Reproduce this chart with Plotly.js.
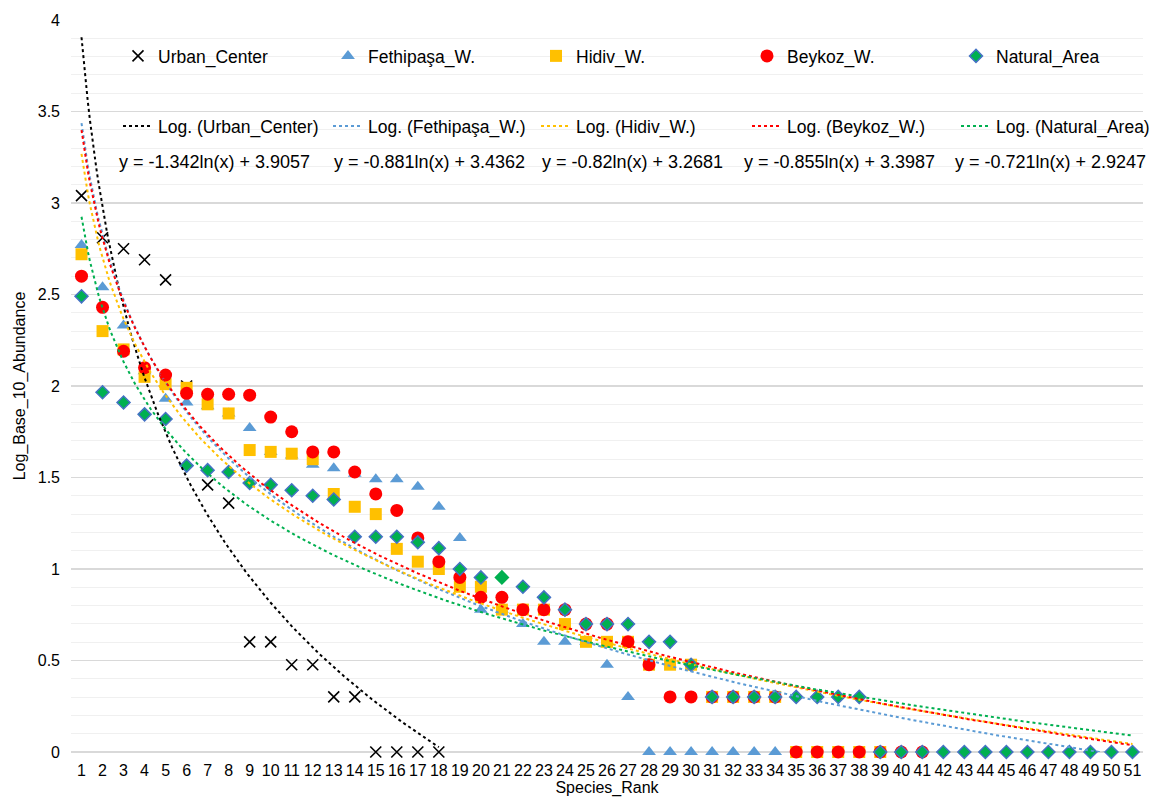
<!DOCTYPE html>
<html>
<head>
<meta charset="utf-8">
<script src="https://cdn.plot.ly/plotly-3.0.1.min.js"></script>
<style>html,body{margin:0;padding:0;background:#fff;}#chart{width:1156px;height:800px;}</style>
</head>
<body>
<div id="chart"></div>
<script>
// Species rank categories
const ranks = [1,2,3,4,5,6,7,8,9,10,11,12,13,14,15,16,17,18,19,20,21,22,23,24,25,26,27,28,29,30,31,32,33,34,35,36,37,38,39,40,41,42,43,44,45,46,47,48,49,50,51];

// Log10 abundance per site
const urbanCenter = [3.04,2.81,2.75,2.69,2.58,2.00,1.46,1.36,0.602,0.602,0.477,0.477,0.301,0.301,0,0,0,0];
const fethipasa = [2.77,2.54,2.33,2.08,1.93,1.91,1.89,1.85,1.77,1.64,
                   1.62,1.57,1.55,1.52,1.49,1.49,1.45,1.34,1.17,0.778,
                   0.778,0.699,0.602,0.602,0.602,0.477,0.301,0,0,0,
                   0,0,0,0];
const hidiv = [2.72,2.30,2.20,2.05,2.01,1.99,1.90,1.85,1.65,1.64,
               1.63,1.60,1.41,1.34,1.30,1.11,1.04,1.00,0.903,0.903,
               0.778,0.778,0.778,0.699,0.602,0.602,0.602,0.477,0.477,0.477,
               0.301,0.301,0.301,0.301,0,0,0,0,0];
const beykoz = [2.60,2.43,2.19,2.10,2.06,1.96,1.955,1.955,1.95,1.83,
                1.75,1.64,1.64,1.53,1.41,1.32,1.17,1.04,0.954,0.845,
                0.845,0.778,0.778,0.778,0.699,0.699,0.602,0.477,0.301,0.301,
                0.301,0.301,0.301,0.301,0,0,0,0,0,0,0];
const naturalArea = [2.49,1.966,1.91,1.845,1.82,1.565,1.54,1.53,1.47,1.46,
                     1.43,1.40,1.38,1.176,1.176,1.176,1.146,1.114,1.0,0.954,
                     0.954,0.903,0.845,0.778,0.699,0.699,0.699,0.602,0.602,0.477,
                     0.301,0.301,0.301,0.301,0.301,0.301,0.301,0.301,0,0,
                     0,0,0,0,0,0,0,0,0,0,0];

const seriesNames = ['Urban_Center','Fethipaşa_W.','Hidiv_W.','Beykoz_W.','Natural_Area'];
// Logarithmic trendline coefficients shown on the chart: y = a ln(x) + b
const trendA = [-1.342,-0.881,-0.82,-0.855,-0.721];
const trendB = [3.9057,3.4362,3.2681,3.3987,2.9247];

const seriesValues = [urbanCenter, fethipasa, hidiv, beykoz, naturalArea];
const colors = ['#000000','#5B9BD5','#FFC000','#FF0000','#00B050'];
// one Natural_Area point (rank 21) is drawn without the blue outline in the reference
const naturalBorder = naturalArea.map((v, k) => (ranks[k] === 21 ? '#00B050' : '#4472C4'));
const markers = [
  {symbol:'x-thin', size:11, color:'#000000', line:{color:'#000000', width:1.6}},
  {symbol:'triangle-up', size:12, color:'#5B9BD5', line:{width:0}},
  {symbol:'square', size:12, color:'#FFC000', line:{width:0}},
  {symbol:'circle', size:13, color:'#FF0000', line:{width:0}},
  {symbol:'diamond', size:10, color:'#00B050', line:{color:naturalBorder, width:1.5}}
];

// plot-area geometry (px) used to place legends/labels
const PL = 71, PW = 1072, PT = 20, PH = 732;
const textStartX = [158, 368, 576, 787, 996];
const eqX = [117, 332, 540, 742, 953];
const legendKeys = ['legend','legend2','legend3','legend4','legend5','legend6','legend7','legend8','legend9','legend10'];

const traces = [];
seriesValues.forEach((vals, i) => {
  traces.push({
    type:'scatter', mode:'markers', name:seriesNames[i],
    x: ranks.slice(0, vals.length), y: vals,
    marker: markers[i], legend: legendKeys[i], cliponaxis:false
  });
});
seriesValues.forEach((vals, i) => {
  const n = vals.length <= 18 ? vals.length : ranks.length;
  const xs = [], ys = [];
  for (let k = 0; k <= (n - 1) * 10; k++) {
    const x = 1 + k / 10;
    xs.push(x); ys.push(trendA[i] * Math.log(x) + trendB[i]);
  }
  traces.push({
    type:'scatter', mode:'lines', name:'Log. (' + seriesNames[i] + ')',
    x: xs, y: ys, line:{color:colors[i], width:2, dash:'dot'},
    legend: legendKeys[i + 5], hoverinfo:'skip'
  });
});

const annotations = trendA.map((a, i) => ({
  xref:'paper', yref:'paper', x:(eqX[i] - PL) / PW, y:(PT + PH - 162) / PH,
  xanchor:'left', yanchor:'middle', showarrow:false,
  text:'y = ' + a + 'ln(x) + ' + trendB[i],
  font:{size:18, color:'#000'}
}));

const font = {family:'"Liberation Sans", Arial, sans-serif', size:16, color:'#000'};
const layout = {
  width:1156, height:800,
  margin:{l:PL, r:1156 - PL - PW, t:PT, b:800 - PT - PH, autoexpand:false},
  paper_bgcolor:'#fff', plot_bgcolor:'#fff',
  font: font,
  showlegend:true,
  xaxis:{
    range:[0.5, 51.5], tickmode:'linear', tick0:1, dtick:1,
    showgrid:false, zeroline:false, showline:false, ticks:'',
    ticklabelstandoff:7,
    tickfont:{size:16, color:'#000'},
    title:{text:'Species_Rank', font:{size:16, color:'#000'}, standoff:2}
  },
  yaxis:{
    range:[0, 4], tickmode:'linear', tick0:0, dtick:0.5,
    showgrid:true, gridcolor:'#d9d9d9', gridwidth:1.5,
    zeroline:true, zerolinecolor:'#d9d9d9', zerolinewidth:1.5,
    showline:false, ticks:'',
    ticklabelstandoff:10,
    minor:{dtick:0.1, showgrid:true, gridcolor:'#f0f0f0', gridwidth:1},
    tickfont:{size:16, color:'#000'},
    title:{text:'Log_Base_10_Abundance', font:{size:16, color:'#000'}, standoff:8}
  },
  annotations: annotations
};
legendKeys.forEach((key, j) => {
  const col = j % 5, row = Math.floor(j / 5);
  const rowY = row === 0 ? 56 : 126;
  layout[key] = {
    orientation:'h', x:(textStartX[col] - 40 - PL) / PW, xanchor:'left',
    y:(PT + PH - rowY) / PH, yanchor:'middle',
    bgcolor:'rgba(0,0,0,0)', borderwidth:0, font:{size:17.5, color:'#000'}
  };
});

Plotly.newPlot('chart', traces, layout, {displayModeBar:false, staticPlot:true});
</script>
</body>
</html>
